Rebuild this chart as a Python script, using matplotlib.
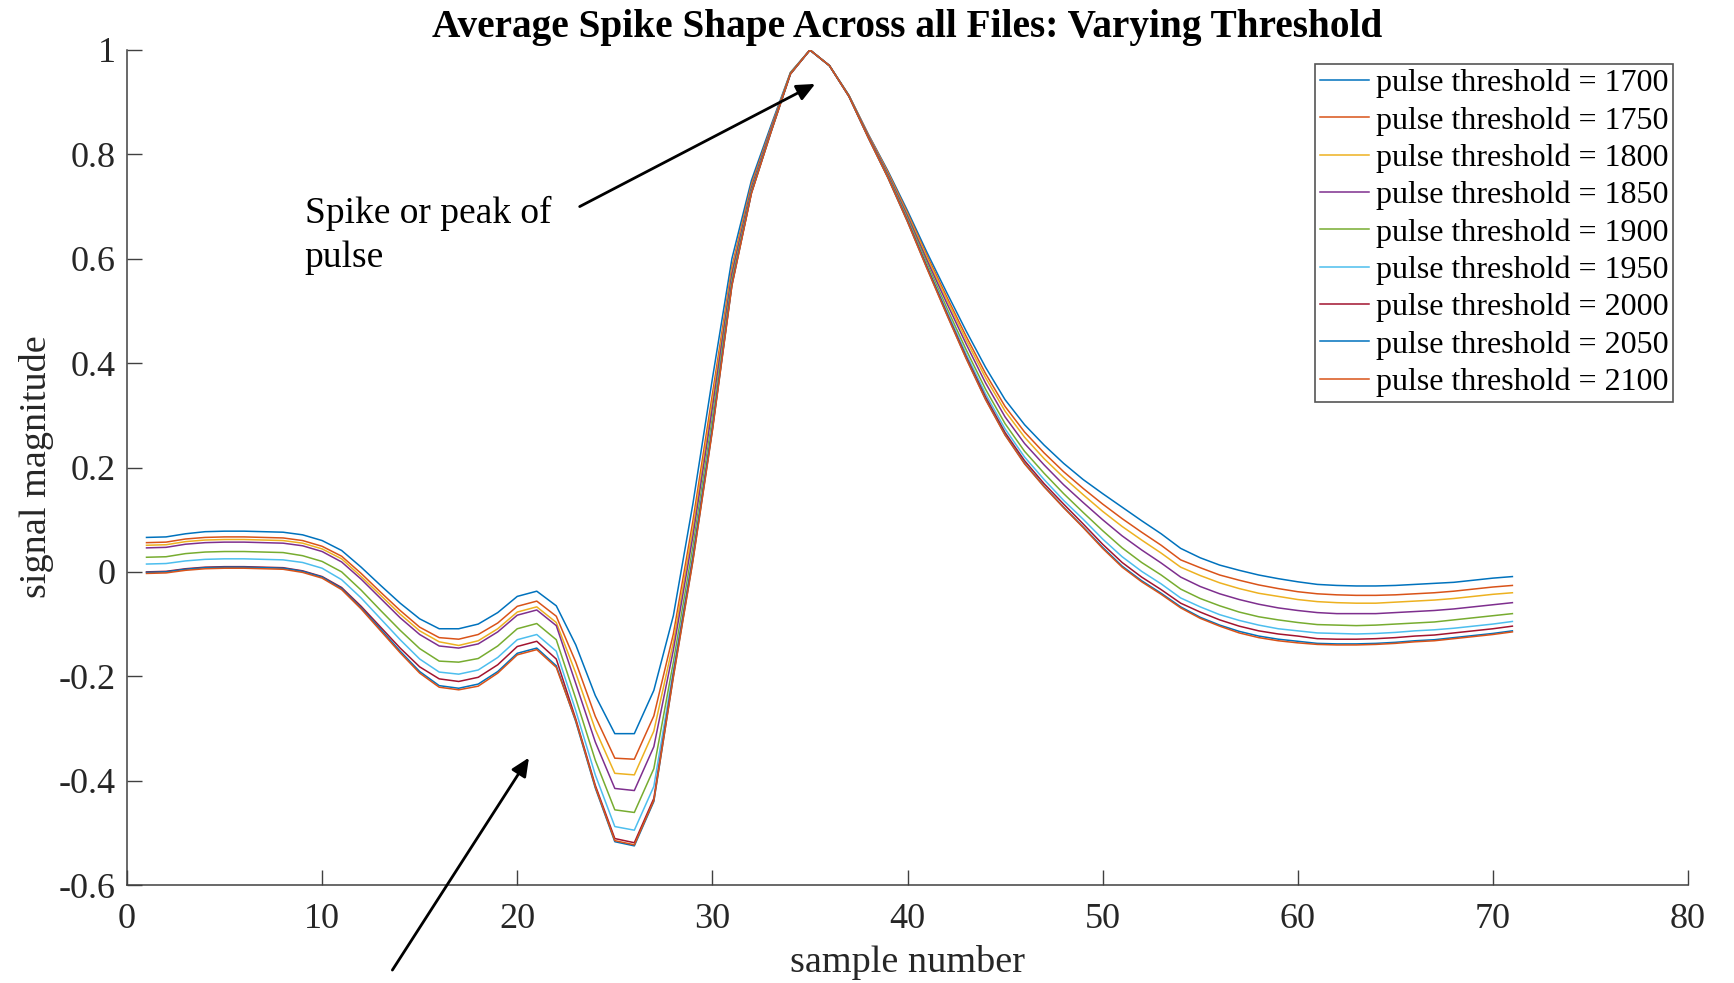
import matplotlib
matplotlib.use("Agg")
import matplotlib.pyplot as plt

# ---------------- data ----------------
sample_number = list(range(1, 72))

thr_1700 = [0.066, 0.067, 0.073, 0.077, 0.078, 0.078, 0.077, 0.076, 0.071, 0.060,
            0.041, 0.009, -0.026, -0.060, -0.090, -0.109, -0.109, -0.100, -0.078, -0.047,
            -0.037, -0.065, -0.140, -0.237, -0.310, -0.310, -0.227, -0.084, 0.130, 0.370,
            0.600, 0.750, 0.855, 0.957, 1.000, 0.970, 0.913, 0.838, 0.768, 0.692,
            0.612, 0.536, 0.462, 0.392, 0.330, 0.282, 0.243, 0.208, 0.177, 0.150,
            0.124, 0.098, 0.073, 0.045, 0.027, 0.013, 0.003, -0.006, -0.013, -0.019,
            -0.024, -0.026, -0.027, -0.027, -0.026, -0.024, -0.022, -0.020, -0.016, -0.012,
            -0.009]
thr_1750 = [0.056, 0.057, 0.063, 0.066, 0.067, 0.067, 0.066, 0.065, 0.060, 0.049,
            0.030, -0.003, -0.039, -0.074, -0.106, -0.126, -0.129, -0.120, -0.098, -0.066,
            -0.056, -0.085, -0.173, -0.277, -0.357, -0.359, -0.276, -0.119, 0.097, 0.340,
            0.584, 0.743, 0.851, 0.956, 1.000, 0.970, 0.913, 0.837, 0.766, 0.688,
            0.606, 0.528, 0.452, 0.380, 0.317, 0.268, 0.228, 0.192, 0.160, 0.130,
            0.102, 0.076, 0.051, 0.023, 0.008, -0.006, -0.016, -0.025, -0.032, -0.038,
            -0.042, -0.044, -0.045, -0.045, -0.044, -0.042, -0.040, -0.037, -0.033, -0.029,
            -0.026]
thr_1800 = [0.051, 0.052, 0.058, 0.061, 0.062, 0.062, 0.061, 0.060, 0.055, 0.044,
            0.025, -0.009, -0.045, -0.081, -0.113, -0.134, -0.141, -0.132, -0.109, -0.077,
            -0.067, -0.097, -0.194, -0.302, -0.386, -0.389, -0.305, -0.135, 0.083, 0.327,
            0.578, 0.739, 0.849, 0.956, 1.000, 0.970, 0.912, 0.836, 0.764, 0.685,
            0.602, 0.523, 0.445, 0.372, 0.308, 0.258, 0.217, 0.181, 0.148, 0.116,
            0.087, 0.061, 0.036, 0.009, -0.007, -0.021, -0.032, -0.041, -0.047, -0.053,
            -0.057, -0.059, -0.060, -0.060, -0.058, -0.056, -0.054, -0.051, -0.047, -0.043,
            -0.040]
thr_1850 = [0.046, 0.047, 0.053, 0.056, 0.057, 0.057, 0.056, 0.055, 0.050, 0.039,
            0.019, -0.014, -0.051, -0.088, -0.120, -0.142, -0.146, -0.138, -0.115, -0.083,
            -0.073, -0.103, -0.214, -0.326, -0.415, -0.419, -0.335, -0.150, 0.068, 0.314,
            0.571, 0.736, 0.848, 0.955, 1.000, 0.970, 0.912, 0.835, 0.762, 0.682,
            0.597, 0.516, 0.437, 0.362, 0.297, 0.246, 0.205, 0.167, 0.133, 0.100,
            0.069, 0.042, 0.017, -0.010, -0.028, -0.042, -0.053, -0.062, -0.069, -0.074,
            -0.078, -0.080, -0.080, -0.080, -0.078, -0.076, -0.074, -0.071, -0.067, -0.063,
            -0.059]
thr_1900 = [0.028, 0.029, 0.035, 0.038, 0.039, 0.039, 0.038, 0.037, 0.031, 0.020,
            0.000, -0.035, -0.074, -0.112, -0.147, -0.171, -0.173, -0.166, -0.142, -0.109,
            -0.099, -0.130, -0.243, -0.361, -0.456, -0.461, -0.377, -0.173, 0.048, 0.295,
            0.561, 0.731, 0.845, 0.955, 1.000, 0.970, 0.912, 0.833, 0.759, 0.678,
            0.591, 0.507, 0.426, 0.350, 0.284, 0.231, 0.189, 0.150, 0.114, 0.079,
            0.046, 0.018, -0.006, -0.033, -0.051, -0.065, -0.077, -0.086, -0.092, -0.097,
            -0.101, -0.102, -0.103, -0.102, -0.100, -0.098, -0.096, -0.092, -0.088, -0.084,
            -0.080]
thr_1950 = [0.015, 0.016, 0.021, 0.024, 0.025, 0.025, 0.024, 0.023, 0.018, 0.007,
            -0.015, -0.050, -0.090, -0.130, -0.167, -0.192, -0.196, -0.188, -0.164, -0.130,
            -0.120, -0.152, -0.266, -0.389, -0.488, -0.495, -0.411, -0.188, 0.033, 0.282,
            0.554, 0.728, 0.844, 0.954, 1.000, 0.970, 0.911, 0.832, 0.757, 0.675,
            0.586, 0.501, 0.418, 0.341, 0.274, 0.220, 0.177, 0.137, 0.101, 0.063,
            0.029, 0.001, -0.023, -0.050, -0.067, -0.082, -0.093, -0.102, -0.109, -0.113,
            -0.117, -0.118, -0.119, -0.118, -0.116, -0.113, -0.111, -0.108, -0.104, -0.100,
            -0.095]
thr_2000 = [0.000, 0.001, 0.006, 0.009, 0.010, 0.010, 0.009, 0.008, 0.002, -0.009,
            -0.030, -0.066, -0.106, -0.146, -0.182, -0.205, -0.210, -0.202, -0.178, -0.143,
            -0.133, -0.167, -0.282, -0.409, -0.511, -0.519, -0.434, -0.196, 0.026, 0.275,
            0.551, 0.726, 0.843, 0.954, 1.000, 0.970, 0.911, 0.832, 0.756, 0.673,
            0.584, 0.497, 0.413, 0.335, 0.267, 0.213, 0.169, 0.130, 0.092, 0.053,
            0.018, -0.010, -0.034, -0.060, -0.077, -0.092, -0.104, -0.113, -0.119, -0.123,
            -0.128, -0.129, -0.129, -0.128, -0.126, -0.123, -0.121, -0.117, -0.113, -0.109,
            -0.104]
thr_2050 = [-0.001, 0.000, 0.005, 0.008, 0.009, 0.009, 0.008, 0.007, 0.001, -0.010,
            -0.032, -0.069, -0.110, -0.152, -0.191, -0.218, -0.223, -0.215, -0.191, -0.156,
            -0.146, -0.180, -0.287, -0.414, -0.517, -0.525, -0.440, -0.200, 0.022, 0.272,
            0.549, 0.726, 0.842, 0.954, 1.000, 0.970, 0.911, 0.831, 0.755, 0.671,
            0.582, 0.495, 0.410, 0.331, 0.263, 0.208, 0.164, 0.124, 0.086, 0.047,
            0.011, -0.017, -0.041, -0.067, -0.087, -0.102, -0.114, -0.123, -0.129, -0.133,
            -0.137, -0.138, -0.138, -0.137, -0.135, -0.132, -0.130, -0.126, -0.122, -0.118,
            -0.113]
thr_2100 = [-0.003, -0.002, 0.003, 0.006, 0.007, 0.007, 0.006, 0.005, -0.001, -0.012,
            -0.034, -0.071, -0.113, -0.155, -0.194, -0.221, -0.226, -0.219, -0.194, -0.159,
            -0.149, -0.183, -0.285, -0.412, -0.515, -0.523, -0.438, -0.202, 0.020, 0.270,
            0.548, 0.725, 0.842, 0.954, 1.000, 0.970, 0.911, 0.831, 0.755, 0.671,
            0.581, 0.494, 0.409, 0.330, 0.262, 0.207, 0.163, 0.123, 0.085, 0.045,
            0.009, -0.019, -0.043, -0.069, -0.089, -0.104, -0.117, -0.126, -0.132, -0.136,
            -0.139, -0.140, -0.140, -0.139, -0.137, -0.134, -0.132, -0.128, -0.124, -0.120,
            -0.115]

series_labels = ["pulse threshold = 1700", "pulse threshold = 1750", "pulse threshold = 1800",
                 "pulse threshold = 1850", "pulse threshold = 1900", "pulse threshold = 1950",
                 "pulse threshold = 2000", "pulse threshold = 2050", "pulse threshold = 2100"]
series_values = [thr_1700, thr_1750, thr_1800, thr_1850, thr_1900, thr_1950,
                 thr_2000, thr_2050, thr_2100]

x_ticks = [0, 10, 20, 30, 40, 50, 60, 70, 80]
x_tick_labels = ["0", "10", "20", "30", "40", "50", "60", "70", "80"]
y_ticks = [-0.6, -0.4, -0.2, 0, 0.2, 0.4, 0.6, 0.8, 1]
y_tick_labels = ["-0.6", "-0.4", "-0.2", "0", "0.2", "0.4", "0.6", "0.8", "1"]

title_text = "Average Spike Shape Across all Files: Varying Threshold"
x_label = "sample number"
y_label = "signal magnitude"
note_text = "Spike or peak of\npulse"

# ---------------- style ----------------
colors = ["#0072BD", "#D95319", "#EDB120", "#7E2F8E", "#77AC30",
          "#4DBEEE", "#A2142F", "#0072BD", "#D95319"]
plt.rcParams["font.family"] = ["Liberation Serif", "DejaVu Serif"]
plt.rcParams["axes.unicode_minus"] = False

W, H = 1734, 983
fig = plt.figure(figsize=(W / 100, H / 100), dpi=100)
ax = fig.add_axes([127 / W, 1 - 885 / H, (1688 - 127) / W, (885 - 50) / H])

for vals, lab, col in zip(series_values, series_labels, colors):
    ax.plot(sample_number, vals, color=col, lw=1.1, label=lab)

ax.set_xlim(0, 80)
ax.set_ylim(-0.6, 1)
ax.set_xticks(x_ticks, x_tick_labels)
ax.set_yticks(y_ticks, y_tick_labels)

axis_col = "#404040"
for s in ["top", "right"]:
    ax.spines[s].set_visible(False)
for s in ["left", "bottom"]:
    ax.spines[s].set_color(axis_col)
    ax.spines[s].set_linewidth(1.1)
ax.tick_params(direction="in", length=10.8, width=1.0, color=axis_col,
               labelsize=26, labelcolor="#262626")
ax.tick_params(axis="y", pad=8)
ax.tick_params(axis="x", pad=13)

fig.text(907.5 / W, 1 - 28 / H, title_text, ha="center", va="center",
         fontsize=28.3, fontweight="bold", color="black")
fig.text(907.5 / W, 1 - 963 / H, x_label, ha="center", va="center",
         fontsize=27.5, color="#262626")
fig.text(36.5 / W, 1 - 467 / H, y_label, ha="center", va="center",
         rotation=90, fontsize=27.5, color="#262626")

leg = ax.legend(loc="upper right", bbox_to_anchor=(1673 / W, 1 - 64 / H),
                bbox_transform=fig.transFigure, fontsize=23, frameon=True,
                fancybox=False, borderpad=0.15, labelspacing=0.245,
                handlelength=1.55, handletextpad=0.2, borderaxespad=0.0)
leg.get_frame().set_edgecolor("#555555")
leg.get_frame().set_linewidth(1.2)
leg.get_frame().set_alpha(1)

ax.text(9.1, 0.644, note_text, ha="left", va="center", fontsize=27,
        linespacing=1.35, color="black")

arrow_style = dict(arrowstyle="-|>,head_length=0.55,head_width=0.25",
                   mutation_scale=20, color="black", lw=2.0, shrinkA=0, shrinkB=0)
ax.annotate("", xy=(35.27, 0.935), xytext=(23.2, 0.70), arrowprops=arrow_style,
            annotation_clip=False)
ax.annotate("", xy=(20.6, -0.356), xytext=(13.6, -0.763), arrowprops=arrow_style,
            annotation_clip=False)

fig.savefig("out.png", dpi=100)
